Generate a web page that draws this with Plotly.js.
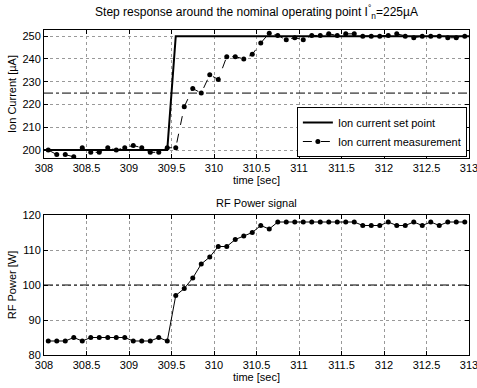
<!DOCTYPE html>
<html><head><meta charset="utf-8">
<script src="https://cdn.plot.ly/plotly-3.0.1.min.js"></script>
<style>html,body{margin:0;padding:0;background:#fff}#chart{width:477px;height:388px}</style>
</head><body><div id="chart"></div>
<script>
const sampleTime = [308.05,308.15,308.25,308.35,308.45,308.55,308.65,308.75,308.85,308.95,
  309.05,309.15,309.25,309.35,309.45,309.55,309.65,309.75,309.85,309.95,
  310.05,310.15,310.25,310.35,310.45,310.55,310.65,310.75,310.85,310.95,
  311.05,311.15,311.25,311.35,311.45,311.55,311.65,311.75,311.85,311.95,
  312.05,312.15,312.25,312.35,312.45,312.55,312.65,312.75,312.85,312.95];
const ionMeasured = [200,198,198,197,201,199,199,201,200,201,
  202,201,199,199,201,201,219,227,225,233,
  231,241,241,240,242,247,251.3,250.3,248.4,249.3,
  248.4,250.3,250.3,251,250.3,251,251,250,250,250,
  250.3,251,250,249.3,250,250,250,249.3,249.3,250];
const setTime = [308, 309.45, 309.55, 313];
const setValue = [200, 200, 250, 250];
const rfPower = [84,84,84,85,84,85,85,85,85,85,
  84,84,84,85,84,97,99,102,106,108,
  111,111,113,114,115,117,116,118,118,118,
  118,118,118,118,118,118,118,117,117,117,
  118,117,117,118,117,118,117,118,118,118];
const refTime = [308, 313];
const refCurrent = [225, 225];
const refPower = [100, 100];
const xTicks = [308,308.5,309,309.5,310,310.5,311,311.5,312,312.5,313];
const xTickText = ['308','308.5','309','309.5','310','310.5','311','311.5','312','312.5','313'];
const yTicksTop = [200,210,220,230,240,250];
const yTicksBottom = [80,90,100,110,120];

const FONT = 'Liberation Sans, Arial, Helvetica, sans-serif';
const TICKFONT = 'Liberation Sans Narrow, Arial Narrow, Liberation Sans, sans-serif';
const traces = [
  {x: refTime, y: refCurrent, xaxis:'x', yaxis:'y', mode:'lines', showlegend:false,
   line:{color:'#000', width:1, dash:'dashdot'}, hoverinfo:'skip'},
  {x: setTime, y: setValue, xaxis:'x', yaxis:'y', mode:'lines', name:'Ion current set point',
   line:{color:'#000', width:2}},
  {x: sampleTime, y: ionMeasured, xaxis:'x', yaxis:'y', mode:'lines+markers', name:'Ion current measurement',
   line:{color:'#000', width:1, dash:'dash'}, marker:{color:'#000', size:5}},
  {x: refTime, y: refPower, xaxis:'x2', yaxis:'y2', mode:'lines', showlegend:false,
   line:{color:'#000', width:1, dash:'dashdot'}, hoverinfo:'skip'},
  {x: sampleTime, y: rfPower, xaxis:'x2', yaxis:'y2', mode:'lines+markers', showlegend:false,
   line:{color:'#000', width:1}, marker:{color:'#000', size:5}}
];
const axisCommon = {
  showline:true, linecolor:'#000', linewidth:1, mirror:'ticks', ticks:'inside', ticklen:4,
  tickcolor:'#000', showgrid:true, gridcolor:'#999', griddash:'dot', gridwidth:1, zeroline:false,
  tickfont:{family:TICKFONT, size:11, color:'#000'}, ticklabeloverflow:'allow'
};
const layout = {
  width:477, height:388, paper_bgcolor:'#fff', plot_bgcolor:'#fff',
  margin:{l:44, r:8, t:30, b:33},
  font:{family:FONT, size:11, color:'#000'},
  title:{text:'Step response around the nominal operating point I<sup>°</sup><sub>n</sub>=225µA',
    font:{family:FONT, size:12, color:'#000'}, x:0.5, xref:'paper', y:1-12/388, yref:'container', yanchor:'middle'},
  xaxis: Object.assign({}, axisCommon, {domain:[0,1], anchor:'y', range:[308,313],
    tickvals:xTicks, ticktext:xTickText, title:{text:'time [sec]', font:{family:FONT,size:11}, standoff:2}}),
  yaxis: Object.assign({}, axisCommon, {domain:[197/325,1], anchor:'x', range:[196.5,252.7],
    tickvals:yTicksTop, title:{text:'Ion Current [µA]', font:{family:FONT,size:11}, standoff:3}}),
  xaxis2: Object.assign({}, axisCommon, {domain:[0,1], anchor:'y2', range:[308,313],
    tickvals:xTicks, ticktext:xTickText, title:{text:'time [sec]', font:{family:FONT,size:11}, standoff:2}}),
  yaxis2: Object.assign({}, axisCommon, {domain:[0,140/325], anchor:'x2', range:[80,120],
    tickvals:yTicksBottom, title:{text:'RF Power [W]', font:{family:FONT,size:11}, standoff:3}}),
  legend:{x:0.995, xanchor:'right', y:(355-157)/325, yanchor:'bottom', bgcolor:'#fff',
    bordercolor:'#000', borderwidth:1, font:{family:FONT, size:11, color:'#000'},
    itemwidth:30, tracegroupgap:0},
  annotations:[{text:'RF Power signal', xref:'paper', yref:'paper', x:0.5, y:(355-203)/325,
    xanchor:'center', yanchor:'middle', showarrow:false, font:{family:FONT, size:11, color:'#000'}}],
  showlegend:true
};
Plotly.newPlot('chart', traces, layout, {displayModeBar:false, staticPlot:true});
</script></body></html>
